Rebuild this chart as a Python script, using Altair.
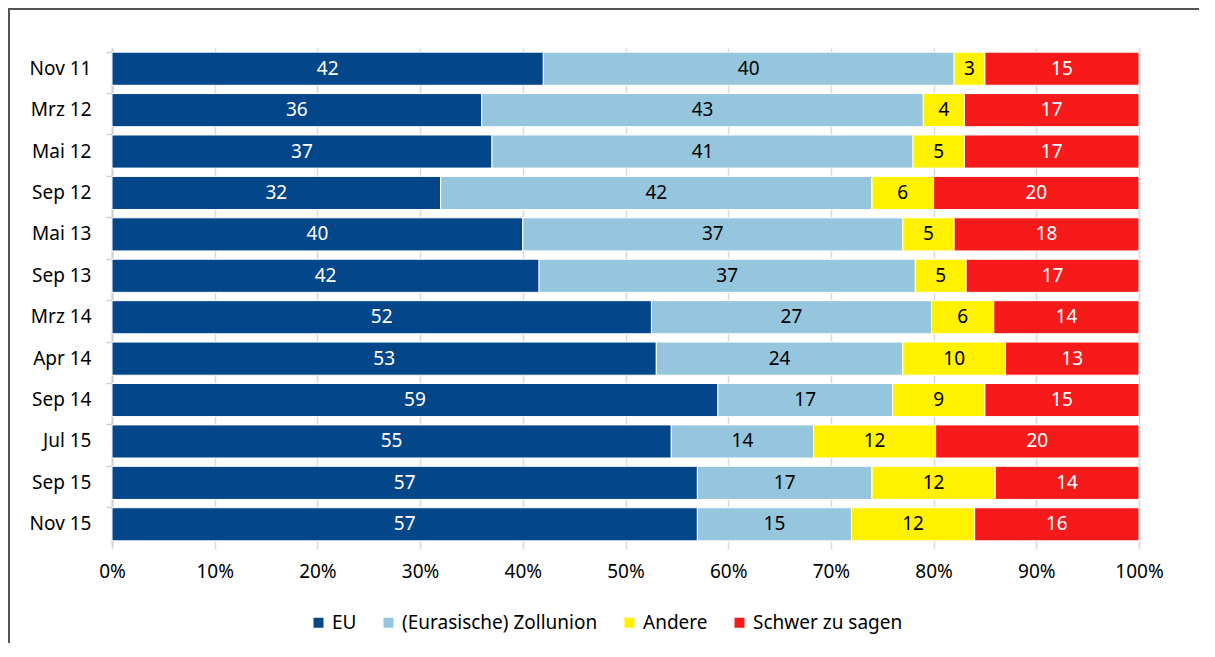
import altair as alt
import pandas as pd

periods = ["Nov 11", "Mrz 12", "Mai 12", "Sep 12", "Mai 13", "Sep 13",
           "Mrz 14", "Apr 14", "Sep 14", "Jul 15", "Sep 15", "Nov 15"]
categories = ["EU", "(Eurasische) Zollunion", "Andere", "Schwer zu sagen"]
eu = [42, 36, 37, 32, 40, 42, 52, 53, 59, 55, 57, 57]
zollunion = [40, 43, 41, 42, 37, 37, 27, 24, 17, 14, 17, 15]
andere = [3, 4, 5, 6, 5, 5, 6, 10, 9, 12, 12, 12]
schwer = [15, 17, 17, 20, 18, 17, 14, 13, 15, 20, 14, 16]
colors = ["#03468A", "#96C6DE", "#FFF100", "#F61A1B"]
label_colors = ["white", "black", "black", "white"]

series = [eu, zollunion, andere, schwer]
rows = []
for ci, (cat, vals) in enumerate(zip(categories, series)):
    for p, v in zip(periods, vals):
        rows.append({"period": p, "cat": cat, "value": v, "order": ci,
                     "lc": label_colors[ci]})
df = pd.DataFrame(rows)

FONT = "Noto Sans"
FS = 19

base = alt.Chart(df).transform_stack(
    stack="value", groupby=["period"], as_=["v0", "v1"],
    offset="normalize", sort=[alt.SortField("order", order="ascending")]
).transform_calculate(mid="(datum.v0 + datum.v1) / 2")

y_enc = alt.Y("period:N", sort=periods, title=None,
              scale=alt.Scale(paddingInner=0.2, paddingOuter=0.1),
              axis=alt.Axis(bandPosition=0, domainColor="#D0D0D0", domainWidth=2,
                            tickColor="#D0D0D0", tickWidth=1.5, tickSize=6,
                            labelPadding=15, labelFontSize=FS, labelColor="black",
                            labelFont=FONT, grid=False))

bars = base.mark_bar(stroke="white", strokeWidth=1).encode(
    x=alt.X("v0:Q", title=None, scale=alt.Scale(domain=[0, 1], nice=False),
            axis=alt.Axis(format=".0%", values=[i / 10 for i in range(11)],
                          grid=True, gridColor="#D9D9D9", gridWidth=1.5,
                          domain=False, tickColor="#D9D9D9", tickSize=4,
                          tickWidth=1.5, labelPadding=13, labelFontSize=FS,
                          labelColor="black", labelFont=FONT, labelFlush=False)),
    x2="v1:Q",
    y=y_enc,
    color=alt.Color("cat:N", sort=categories,
                    scale=alt.Scale(domain=categories, range=colors),
                    legend=alt.Legend(title=None, orient="none", direction="horizontal",
                                      legendX=197, legendY=565, padding=0,
                                      symbolType="square", symbolSize=100,
                                      symbolStrokeWidth=0, labelFontSize=FS,
                                      labelFont=FONT, labelColor="black",
                                      labelLimit=400, columnPadding=22, labelOffset=4)),
    order=alt.Order("order:Q"),
)

texts = base.mark_text(fontSize=FS, font=FONT, baseline="middle").encode(
    x=alt.X("mid:Q"),
    y=alt.Y("period:N", sort=periods),
    text="value:Q",
    color=alt.Color("lc:N", scale=None, legend=None),
)

frame_df = pd.DataFrame({"a": [0]})
frame = alt.Chart(frame_df).mark_rect(fill=None, stroke="#555555", strokeWidth=2).encode(
    x=alt.value(-103), x2=alt.value(1300), y=alt.value(-39), y2=alt.value(800))

chart = alt.layer(bars, texts, frame).properties(
    width=1027, height=497,
    autosize=alt.AutoSizeParams(type="none"),
    padding={"left": 104, "top": 40, "right": 60, "bottom": 98},
).configure_view(stroke=None)

chart.save("out.html", embed_options={"renderer": "svg", "actions": False})
